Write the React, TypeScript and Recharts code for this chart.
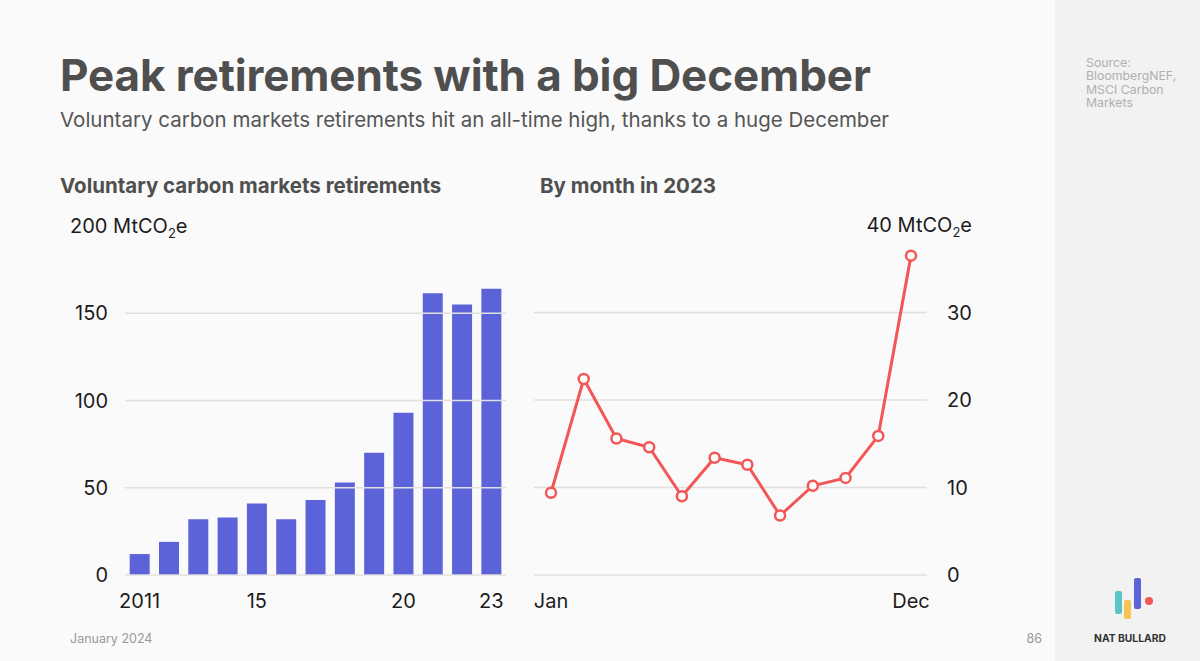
import React from "react";
import { BarChart, Bar, LineChart, Line, XAxis, YAxis, ReferenceLine } from "recharts";

// annual retirements, MtCO2e
const years = ["2011", "2012", "2013", "2014", "2015", "2016", "2017", "2018", "2019", "2020", "2021", "2022", "2023"];
const annualRetirements = [12, 19, 32, 33, 41, 32, 43, 53, 70, 93, 161.5, 155, 164];
const yearTicks = ["2011", "2015", "2020", "2023"];
const yearTickLabels: { [key in string]: string } = { "2011": "2011", "2015": "15", "2020": "20", "2023": "23" };
const annualAxisTicks = [0, 50, 100, 150, 200];

// monthly retirements in 2023, MtCO2e
const months = ["Jan", "Feb", "Mar", "Apr", "May", "Jun", "Jul", "Aug", "Sep", "Oct", "Nov", "Dec"];
const monthlyRetirements = [9.4, 22.4, 15.6, 14.6, 9.0, 13.4, 12.6, 6.8, 10.2, 11.1, 15.9, 36.5];
const monthTicks = ["Jan", "Dec"];
const monthlyAxisTicks = [0, 10, 20, 30, 40];

const sourceLines = ["Source:", "BloombergNEF,", "MSCI Carbon", "Markets"];

const annualData = years.map((year, i) => ({ year, value: annualRetirements[i] }));
const monthlyData = months.map((month, i) => ({ month, value: monthlyRetirements[i] }));

const FONT = "Inter, 'Noto Sans', sans-serif";
const BAR = "#5c62d8";
const RED = "#f25656";
const GRID = "#e0e0e0";
const INK = "#1c1c1c";

const unitLabel = (value: number) => (
  <>
    {value} MtCO<tspan fontSize={13} dy={5}>2</tspan><tspan dy={-5}>e</tspan>
  </>
);

const LeftTick = (props: any) => {
  const { x, y, payload } = props;
  if (payload.value === 200) {
    return <text x={x - 38} y={y} dy="0.35em" textAnchor="start" fill={INK} fontSize={20} fontFamily={FONT}>{unitLabel(200)}</text>;
  }
  return <text x={x} y={y} dy="0.35em" textAnchor="end" fill={INK} fontSize={20} fontFamily={FONT}>{payload.value}</text>;
};

const RightTick = (props: any) => {
  const { x, y, payload } = props;
  if (payload.value === 40) {
    return <text x={x + 25} y={y} dy="0.35em" textAnchor="end" fill={INK} fontSize={20} fontFamily={FONT}>{unitLabel(40)}</text>;
  }
  return <text x={x} y={y} dy="0.35em" textAnchor="start" fill={INK} fontSize={20} fontFamily={FONT}>{payload.value}</text>;
};

const tickStyle = { fill: INK, fontSize: 20, fontFamily: FONT };

export default function App() {
  return (
    <div style={{ position: "absolute", left: 0, top: 0, width: 1200, height: 661, background: "#fafafa", overflow: "hidden", fontFamily: FONT }}>
      <svg width={1200} height={661} style={{ position: "absolute", left: 0, top: 0 }}>
        <rect x={1055} y={0} width={145} height={661} fill="#f2f2f2" />
        <text x={60} y={91} fontSize={44} fontWeight={700} fill="#4f4f4f" fontFamily={FONT} letterSpacing={-0.1}>Peak retirements with a big December</text>
        <text x={60} y={127} fontSize={20.5} fill="#555" fontFamily={FONT}>Voluntary carbon markets retirements hit an all-time high, thanks to a huge December</text>
        <text x={60} y={193} fontSize={20.5} fontWeight={700} fill="#4f4f4f" fontFamily={FONT}>Voluntary carbon markets retirements</text>
        <text x={540} y={193} fontSize={20.5} fontWeight={700} fill="#4f4f4f" fontFamily={FONT}>By month in 2023</text>
        {sourceLines.map((line, i) => (
          <text key={line} x={1086} y={67 + i * 13.3} fontSize={12.3} fill="#b0b0b0" fontFamily={FONT}>{line}</text>
        ))}
        <text x={70} y={643} fontSize={12.5} fill="#999" fontFamily={FONT}>January 2024</text>
        <text x={1042} y={643} fontSize={12.5} fill="#999" fontFamily={FONT} textAnchor="end">86</text>
        {/* logo */}
        <rect x={1115} y={591} width={7} height={23} rx={2} fill="#5bc5c6" />
        <rect x={1124} y={600} width={7} height={19} rx={2} fill="#f5c453" />
        <rect x={1134} y={578} width={7} height={31} rx={2} fill={BAR} />
        <circle cx={1149} cy={601} r={4} fill={RED} />
        <text x={1130} y={642} fontSize={10.3} fontWeight={700} fill="#333" fontFamily={FONT} textAnchor="middle">NAT BULLARD</text>
      </svg>

      <div style={{ position: "absolute", left: 60, top: 200 }}>
        <BarChart width={460} height={420} data={annualData} margin={{ top: 26, right: 14, bottom: 5, left: 25 }} barCategoryGap="16%">
          {annualAxisTicks.slice(0, -1).map((v) => (
            <ReferenceLine key={v} y={v} stroke={GRID} strokeWidth={1.5} />
          ))}
          <XAxis dataKey="year" ticks={yearTicks} interval={0} tickFormatter={(v) => yearTickLabels[v] ?? ""} axisLine={false} tickLine={false} tickSize={0} tickMargin={19} height={40} tick={tickStyle} />
          <YAxis domain={[0, 200]} ticks={annualAxisTicks} axisLine={false} tickLine={false} tickSize={0} tickMargin={17} width={40} tick={<LeftTick />} />
          <Bar dataKey="value" fill={BAR} isAnimationActive={false} />
        </BarChart>
      </div>

      <div style={{ position: "absolute", left: 520, top: 200 }}>
        <LineChart width={480} height={420} data={monthlyData} margin={{ top: 25, right: 28, bottom: 5, left: 14 }}>
          {monthlyAxisTicks.slice(0, -1).map((v) => (
            <ReferenceLine key={v} y={v} stroke={GRID} strokeWidth={1.5} />
          ))}
          <XAxis dataKey="month" ticks={monthTicks} interval={0} padding={{ left: 17, right: 16 }} axisLine={false} tickLine={false} tickSize={0} tickMargin={19} height={40} tick={tickStyle} />
          <YAxis orientation="right" domain={[0, 40]} ticks={monthlyAxisTicks} axisLine={false} tickLine={false} tickSize={0} tickMargin={20} width={45} tick={<RightTick />} />
          <Line type="linear" dataKey="value" stroke={RED} strokeWidth={3} dot={{ r: 5, stroke: RED, strokeWidth: 2.5, fill: "#fafafa" }} isAnimationActive={false} />
        </LineChart>
      </div>
    </div>
  );
}
